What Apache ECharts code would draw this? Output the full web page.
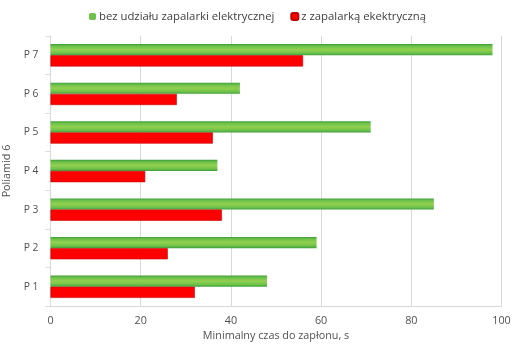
<!DOCTYPE html>
<html>
<head>
<meta charset="utf-8">
<script src="https://cdn.jsdelivr.net/npm/echarts@6/dist/echarts.min.js"></script>
<style>
  html, body { margin: 0; padding: 0; background: #fff; }
  #chart { width: 515px; height: 354px; }
</style>
</head>
<body>
<div id="chart"></div>
<script>
const categories = ["P 1", "P 2", "P 3", "P 4", "P 5", "P 6", "P 7"]
const withoutIgniter = [48, 59, 85, 37, 71, 42, 98]
const withIgniter = [32, 26, 38, 21, 36, 28, 56]
const xTicks = [0, 20, 40, 60, 80, 100]

const nameWithout = "bez udziału zapalarki elektrycznej"
const nameWith = "z zapalarką ekektryczną"

const textColor = "#505050"
const gridColor = "#d9d9d9"
const font = "'Open Sans', 'Liberation Sans', sans-serif"

const chart = echarts.init(document.getElementById("chart"))

const greenFill = new echarts.graphic.LinearGradient(0, 0, 0, 1, [
  { offset: 0, color: "#3f9f3a" },
  { offset: 0.2, color: "#6ec24a" },
  { offset: 0.5, color: "#92d050" },
  { offset: 0.8, color: "#6ec24a" },
  { offset: 1, color: "#3f9f3a" }
])

chart.setOption({
  animation: false,
  textStyle: { fontFamily: font },
  legend: {
    top: 6,
    left: "center",
    itemWidth: 7,
    itemHeight: 7,
    itemGap: 16,
    data: [
      { name: nameWithout, itemStyle: { color: "#6ec24a" } },
      { name: nameWith, itemStyle: { color: "#ff0000" } }
    ],
    textStyle: { color: "#404040", fontSize: 11.3, fontFamily: font, padding: [0, 0, 0, -2] }
  },
  grid: { left: 50.5, right: 13.5, top: 36, bottom: 48, containLabel: false, outerBoundsMode: "none" },
  xAxis: {
    type: "value",
    min: 0,
    max: 100,
    interval: 20,
    name: "Minimalny czas do zapłonu, s",
    nameLocation: "middle",
    nameGap: 24,
    nameTextStyle: { color: textColor, fontSize: 10.8, fontFamily: font },
    axisLine: { show: true, lineStyle: { color: gridColor } },
    axisTick: { show: false },
    axisLabel: {
      color: textColor, fontSize: 10.8, margin: 9, fontFamily: font,
      formatter: v => xTicks.includes(v) ? String(v) : ""
    },
    splitLine: { show: true, lineStyle: { color: gridColor, width: 1 } }
  },
  yAxis: {
    type: "category",
    data: categories,
    name: "Poliamid 6",
    nameLocation: "middle",
    nameRotate: 90,
    nameGap: 29,
    nameTextStyle: { color: textColor, fontSize: 10.8, fontFamily: font },
    axisLine: { show: true, lineStyle: { color: gridColor } },
    axisTick: { show: true, length: 5, lineStyle: { color: gridColor } },
    axisLabel: { color: textColor, fontSize: 10.3, margin: 12, fontFamily: font },
    splitLine: { show: false }
  },
  series: [
    {
      name: nameWithout,
      type: "bar",
      data: withoutIgniter,
      barGap: "0%",
      barCategoryGap: "42%",
      itemStyle: { color: greenFill }
    },
    {
      name: nameWith,
      type: "bar",
      data: withIgniter,
      barGap: "0%",
      barCategoryGap: "42%",
      itemStyle: { color: "#ff0000", borderColor: "#c00000", borderWidth: 0.6 }
    }
  ]
})
</script>
</body>
</html>
